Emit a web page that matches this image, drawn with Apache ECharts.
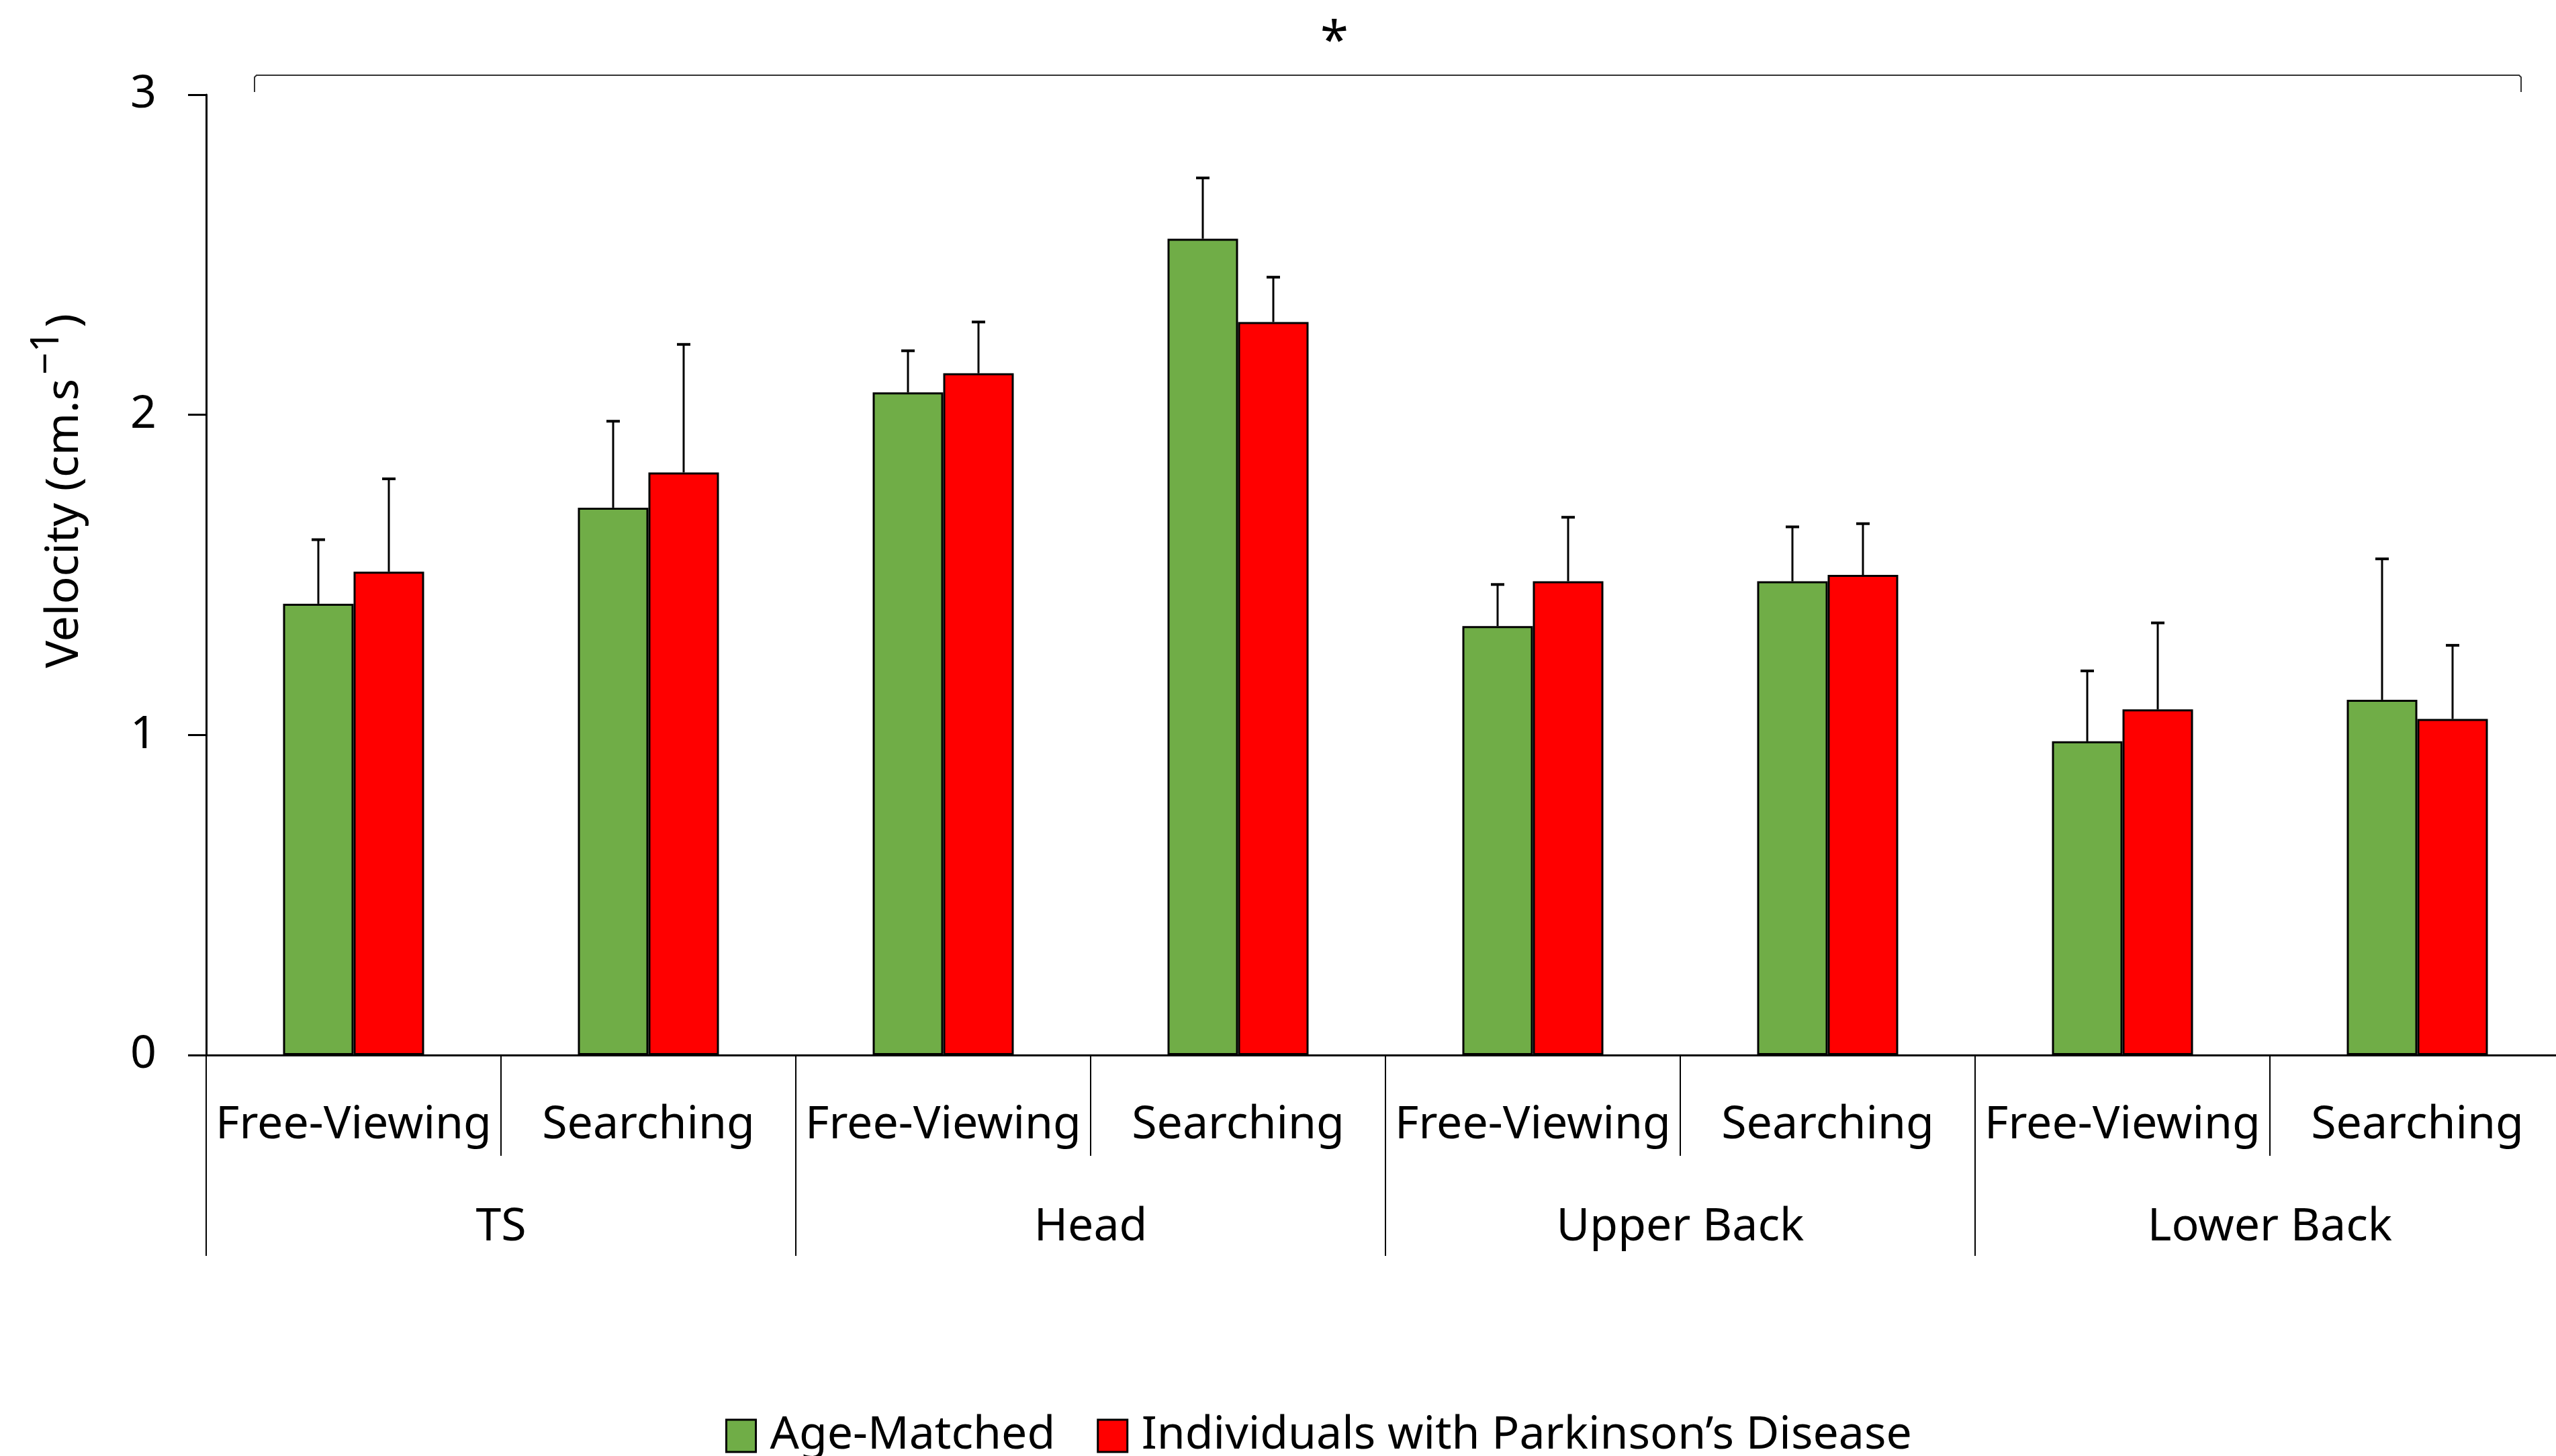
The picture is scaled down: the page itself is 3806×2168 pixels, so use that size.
<!DOCTYPE html>
<html>
<head>
<meta charset="utf-8">
<script src="https://cdn.jsdelivr.net/npm/echarts@6/dist/echarts.min.js"></script>
<style>
  html, body { margin: 0; padding: 0; background: #fff; overflow: hidden; }
  /* a bit wider than the window: the last category runs past the right edge like in the original */
  #chart { width: 3819px; height: 2168px; }
</style>
</head>
<body>
<div id="chart"></div>
<script>
// body segments (outer row) and conditions (inner row)
const groups = ['TS', 'Head', 'Upper Back', 'Lower Back'];
const conditions = ['Free-Viewing', 'Searching'];

// mean velocity + upper error (SD), order: TS FV, TS S, Head FV, Head S, UB FV, UB S, LB FV, LB S
const ageMatched   = [1.41, 1.71, 2.07, 2.55, 1.34, 1.48, 0.98, 1.11];
const ageMatchedSD = [0.20, 0.27, 0.13, 0.19, 0.13, 0.17, 0.22, 0.44];
const parkinsons   = [1.51, 1.82, 2.13, 2.29, 1.48, 1.50, 1.08, 1.05];
const parkinsonsSD = [0.29, 0.40, 0.16, 0.14, 0.20, 0.16, 0.27, 0.23];

const seriesNames = ['Age-Matched', 'Individuals with Parkinson\u2019s Disease'];
const seriesColors = ['#70AD47', '#FF0000'];

const FONT = '"Noto Sans", "Open Sans", sans-serif';
const BAR_W = 105;

// inner category keys, unique per group
let innerCats = [];
groups.forEach(g => {
    conditions.forEach(c => innerCats.push(g + '|' + c));
});

let chart = echarts.init(document.getElementById('chart'));

//误差线
function errorSeries(means, sds, offset) {
    let data = means.map((m, i) => [i, m, m + sds[i]]);
    return {
        type: 'custom',
        xAxisIndex: 0,
        yAxisIndex: 0,
        z: 5,
        silent: true,
        data: data,
        renderItem: function (params, api) {
            let i = api.value(0);
            let base = api.coord([i, api.value(1)]);
            let top = api.coord([i, api.value(2)]);
            let x = base[0] + offset;
            let cap = 10;
            return {
                type: 'group',
                children: [
                    {type: 'line', shape: {x1: x, y1: base[1], x2: x, y2: top[1]}, style: {stroke: '#000', lineWidth: 3}},
                    {type: 'line', shape: {x1: x - cap, y1: top[1], x2: x + cap, y2: top[1]}, style: {stroke: '#000', lineWidth: 4}}
                ]
            };
        }
    };
}

let option = {
    backgroundColor: '#fff',
    animation: false,
    textStyle: {fontFamily: FONT, color: '#000'},
    grid: {left: 307, right: 0, top: 141, bottom: 597, containLabel: false},
    legend: {
        data: seriesNames,
        top: 2099,
        left: 1075,
        itemWidth: 44,
        itemHeight: 48,
        itemGap: 62,
        icon: 'rect',
        itemStyle: {borderColor: '#000', borderWidth: 3},
        textStyle: {fontSize: 68, fontFamily: FONT, color: '#000', padding: [0, 0, 0, 16]}
    },
    xAxis: [
        {
            type: 'category',
            data: innerCats,
            position: 'bottom',
            axisLine: {show: true, lineStyle: {color: '#000', width: 3}},
            axisTick: {show: true, length: 150, lineStyle: {color: '#000', width: 2}},
            axisLabel: {
                interval: 0,
                margin: 71,
                fontSize: 68,
                fontFamily: FONT,
                color: '#000',
                formatter: v => v.split('|')[1]
            },
            splitLine: {show: false}
        },
        {
            type: 'category',
            data: groups,
            position: 'bottom',
            axisLine: {show: false},
            axisTick: {show: true, length: 299, lineStyle: {color: '#000', width: 2}},
            axisLabel: {interval: 0, margin: 223, fontSize: 68, fontFamily: FONT, color: '#000'},
            splitLine: {show: false}
        }
    ],
    yAxis: {
        type: 'value',
        min: 0,
        max: 3,
        interval: 1,
        name: '{a|Velocity (cm.s}{b|\u22121}{a|)}',
        nameLocation: 'middle',
        nameRotate: 90,
        nameGap: 176,
        nameTextStyle: {
            padding: [0, 0, 0, 250],
            rich: {
                a: {fontSize: 68, fontFamily: FONT, color: '#000', lineHeight: 90, verticalAlign: 'bottom'},
                b: {fontSize: 58, fontFamily: FONT, color: '#000', lineHeight: 90, verticalAlign: 'top', padding: [0, 4, 0, 6]}
            }
        },
        axisLine: {show: true, lineStyle: {color: '#000', width: 3}},
        axisTick: {show: true, length: 27, lineStyle: {color: '#000', width: 3}},
        axisLabel: {margin: 74, fontSize: 68, fontFamily: FONT, color: '#000'},
        splitLine: {show: false}
    },
    series: [
        {
            name: seriesNames[0],
            type: 'bar',
            data: ageMatched,
            barWidth: BAR_W,
            barGap: '0%',
            itemStyle: {color: seriesColors[0], borderColor: '#000', borderWidth: 3}
        },
        {
            name: seriesNames[1],
            type: 'bar',
            data: parkinsons,
            barWidth: BAR_W,
            barGap: '0%',
            itemStyle: {color: seriesColors[1], borderColor: '#000', borderWidth: 3}
        },
        errorSeries(ageMatched, ageMatchedSD, -BAR_W / 2),
        errorSeries(parkinsons, parkinsonsSD, BAR_W / 2)
    ],
    // significance bracket over all segments
    graphic: [
        {
            type: 'polyline',
            shape: {points: [[379, 137], [379, 115], [382, 112], [3751, 112], [3754, 115], [3754, 137]]},
            style: {fill: null, stroke: '#333', lineWidth: 2}
        },
        {
            type: 'text',
            left: 1988 - 22,
            top: 26,
            style: {text: '*', fontSize: 76, fontFamily: FONT, fill: '#000'}
        }
    ]
};

chart.setOption(option);
</script>
</body>
</html>
